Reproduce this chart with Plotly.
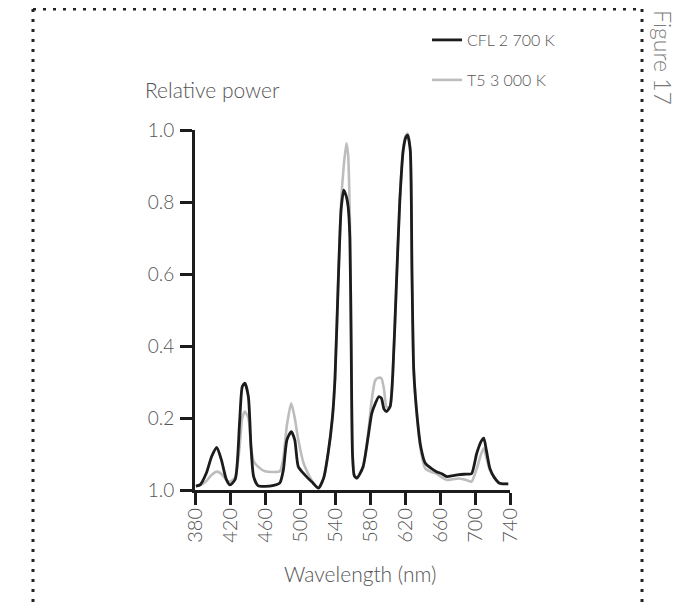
import plotly.graph_objects as go

# Wavelength grid (nm)
wavelength = [381, 386, 393, 399, 405, 410, 416, 420, 426, 431, 434, 437, 441, 444, 447, 452,
              460, 470, 477, 481, 485, 490, 494, 498, 504, 509, 515, 521, 527, 532, 537, 540,
              544, 547, 550, 553, 555, 557, 558.5, 560, 562, 565, 572, 578, 582, 586, 590, 593,
              596, 599, 603, 606, 610, 614, 618, 621, 623, 626, 628, 630, 634, 638, 643, 650,
              656, 662, 668, 675, 682, 690, 696, 702, 707, 710, 713, 717, 722, 728, 738]

cfl_2700 = [0.011, 0.015, 0.047, 0.093, 0.118, 0.085, 0.028, 0.014, 0.030, 0.190, 0.287, 0.297,
            0.259, 0.120, 0.037, 0.012, 0.010, 0.013, 0.020, 0.056, 0.139, 0.162, 0.139, 0.065,
            0.046, 0.033, 0.019, 0.005, 0.033, 0.100, 0.200, 0.310, 0.600, 0.780, 0.833, 0.815,
            0.787, 0.700, 0.400, 0.100, 0.040, 0.033, 0.064, 0.150, 0.213, 0.240, 0.259, 0.255,
            0.225, 0.218, 0.232, 0.320, 0.560, 0.800, 0.944, 0.980, 0.986, 0.944, 0.600, 0.333,
            0.200, 0.120, 0.075, 0.060, 0.051, 0.045, 0.037, 0.040, 0.043, 0.044, 0.045, 0.102,
            0.135, 0.144, 0.110, 0.060, 0.035, 0.019, 0.017]

t5_3000 = [0.011, 0.013, 0.025, 0.042, 0.051, 0.045, 0.028, 0.023, 0.035, 0.120, 0.200, 0.218,
           0.200, 0.120, 0.080, 0.065, 0.052, 0.050, 0.052, 0.090, 0.180, 0.241, 0.200, 0.140,
           0.075, 0.047, 0.020, 0.005, 0.033, 0.100, 0.200, 0.310, 0.600, 0.800, 0.900, 0.963,
           0.930, 0.750, 0.420, 0.110, 0.040, 0.033, 0.064, 0.160, 0.250, 0.305, 0.312, 0.310,
           0.280, 0.230, 0.232, 0.320, 0.560, 0.800, 0.950, 0.985, 0.990, 0.950, 0.600, 0.333,
           0.200, 0.110, 0.060, 0.050, 0.045, 0.035, 0.028, 0.030, 0.032, 0.028, 0.023, 0.060,
           0.100, 0.116, 0.090, 0.055, 0.035, 0.019, 0.017]

x_ticks = [380, 420, 460, 500, 540, 580, 620, 660, 700, 740]
y_ticks = [0, 0.2, 0.4, 0.6, 0.8, 1.0]
y_ticktext = ["1.0", "0.2", "0.4", "0.6", "0.8", "1.0"]

FONT = "Lato Light, Lato, sans-serif"
TXT = "#555555"

# page has an 8px body margin; work in page pixels and shift
OFF = 8
L, R, T, B = 195 - OFF, 510 - OFF, 130 - OFF, 490 - OFF
W, H = 691 - 2 * OFF, 615 - 2 * OFF


def px(x):
    return (x - OFF - L) / (R - L)


def py(y):
    return (B - (y - OFF)) / (B - T)


fig = go.Figure()
fig.add_trace(go.Scatter(x=wavelength, y=t5_3000, mode="lines", name="T5 3 000 K",
                         line=dict(color="#bdbdbd", width=2.6, shape="spline", smoothing=0.6),
                         legend="legend2"))
fig.add_trace(go.Scatter(x=wavelength, y=cfl_2700, mode="lines", name="CFL 2 700 K",
                         line=dict(color="#1c1c1c", width=2.8, shape="spline", smoothing=0.6),
                         legend="legend"))

axis_common = dict(showgrid=False, zeroline=False, showline=True, linecolor="#1c1c1c",
                   linewidth=3, ticks="outside", ticklen=12, tickwidth=3, tickcolor="#1c1c1c")

legend_font = dict(family=FONT, size=16, color=TXT, weight=300)

fig.update_layout(
    width=W, height=H,
    margin=dict(l=L, r=W - R, t=T, b=H - B, pad=0),
    paper_bgcolor="white", plot_bgcolor="white",
    showlegend=True,
    xaxis=dict(range=[380, 740], tickvals=x_ticks, ticktext=[str(v) for v in x_ticks],
               tickangle=-90, ticklabelstandoff=-5,
               tickfont=dict(family=FONT, size=20, color=TXT, weight=300), **axis_common),
    yaxis=dict(range=[0, 1], tickvals=y_ticks, ticktext=y_ticktext, ticklabelstandoff=2,
               tickfont=dict(family=FONT, size=19, color=TXT, weight=300), **axis_common),
    legend=dict(x=px(427), y=py(40), xanchor="left", yanchor="middle", bgcolor="rgba(0,0,0,0)",
                font=legend_font),
    legend2=dict(x=px(427), y=py(80), xanchor="left", yanchor="middle", bgcolor="rgba(0,0,0,0)",
                 font=legend_font),
)

# annotations
fig.add_annotation(x=px(143), y=py(90), xref="paper", yref="paper", text="Relative power",
                   showarrow=False, xanchor="left", yanchor="middle",
                   font=dict(family=FONT, size=21, color=TXT, weight=300))
fig.add_annotation(x=px(360), y=py(573), xref="paper", yref="paper", text="Wavelength (nm)",
                   showarrow=False, xanchor="center", yanchor="middle",
                   font=dict(family=FONT, size=21, color=TXT, weight=300))
fig.add_annotation(x=px(663), y=py(57), xref="paper", yref="paper", text="Figure 17",
                   showarrow=False, xanchor="center", yanchor="middle", textangle=90,
                   font=dict(family=FONT, size=23, color="#7a7a7a", weight=300))

# dotted frame
dot = dict(color="#222222", width=3, dash="3px,7px")
fig.add_shape(type="line", xref="paper", yref="paper", x0=px(33), x1=px(643), y0=py(9), y1=py(9), line=dot)
fig.add_shape(type="line", xref="paper", yref="paper", x0=px(33), x1=px(33), y0=py(9), y1=py(620), line=dot)
fig.add_shape(type="line", xref="paper", yref="paper", x0=px(642), x1=px(642), y0=py(9), y1=py(620), line=dot)

fig.write_html("out.html")
